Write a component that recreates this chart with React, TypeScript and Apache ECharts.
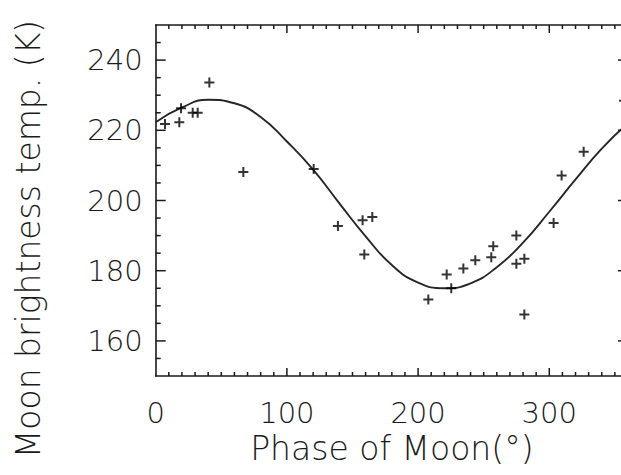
import React, { useEffect, useRef } from "react";
import * as echarts from "echarts";

// Observed lunar brightness temperature versus lunar phase
const phaseDeg = [7.1, 18.0, 19.3, 28.2, 32.0, 40.9, 66.8, 120.4, 138.9, 157.7, 165.1, 159.0, 207.8, 221.8, 225.3, 234.5, 243.6, 255.8, 257.3, 274.9, 274.9, 281.0, 281.0, 303.3, 309.4, 326.2, 357.0];
const tempK = [221.8, 222.3, 226.3, 225.0, 225.0, 233.6, 208.1, 209.0, 192.7, 194.4, 195.3, 184.6, 171.8, 178.9, 175.0, 180.6, 183.0, 183.8, 187.0, 190.0, 182.0, 183.4, 167.5, 193.6, 207.1, 213.9, 228.4];

// Fitted curve through the observations
const fitPhase = [0, 20, 40, 60, 80, 100, 120, 140, 160, 180, 200, 220, 240, 260, 280, 300, 320, 340, 360];
const fitTemp = [222.3, 226.5, 228.7, 227.7, 223.8, 216.8, 208.8, 199.2, 189.8, 181.6, 176.6, 175.0, 176.4, 181.0, 188.0, 196.8, 206.0, 214.8, 222.0];

// Axis ranges; tick slots every 10° (x) and every 5 K (y)
const xRange = [0, 360];
const yRange = [150, 250];
const xTickSlots = Array.from({ length: 37 }, (_, i) => String(i * 10));
const yTickSlots = Array.from({ length: 21 }, (_, i) => String(150 + i * 5));
const xMajorStep = 100;
const yMajorStep = 20;

const xTitle = "Phase of Moon(°)";
const yTitle = "Moon brightness temp. (K)";

const INK = "#1a1a1a";
const FONT = "'DejaVu Sans', sans-serif";
const PLUS = "path://M4,0h2v4h4v2h-4v4h-2v-4h-4v-2h4z";

const everyX = () => (_i: number, v: string) => Number(v) % xMajorStep === 0;
const everyY = () => (_i: number, v: string) => Number(v) % yMajorStep === 0;

// Category axes carry the frame lines and the numeric labels
function frameX(position: "top" | "bottom", labels: boolean) {
  return {
    type: "category",
    position,
    data: xTickSlots,
    boundaryGap: false,
    splitLine: { show: false },
    axisLine: { show: true, onZero: false, lineStyle: { color: INK, width: 1.6 } },
    axisTick: { show: false },
    axisLabel: labels
      ? { show: true, interval: everyX(), margin: 22, fontFamily: FONT, fontSize: 29, fontWeight: 200, color: INK }
      : { show: false },
  };
}

function frameY(position: "left" | "right", labels: boolean) {
  return {
    type: "category",
    position,
    data: yTickSlots,
    boundaryGap: false,
    splitLine: { show: false },
    axisLine: { show: true, onZero: false, lineStyle: { color: INK, width: 1.6 } },
    axisTick: { show: false },
    axisLabel: labels
      ? { show: true, interval: everyY(), margin: 13, fontFamily: FONT, fontSize: 29, fontWeight: 200, color: INK }
      : { show: false },
  };
}

const hiddenValueAxis = (range: number[]) => ({
  type: "value",
  min: range[0],
  max: range[1],
  show: false,
  splitLine: { show: false },
});

const xTickValues = xTickSlots.map(Number).filter((v) => v > xRange[0] && v < xRange[1]);
const yTickValues = yTickSlots.map(Number).filter((v) => v > yRange[0] && v < yRange[1]);
const tickStyle = { stroke: INK, lineWidth: 1.5 };

const yTitleText = {
  type: "text",
  x: 28,
  y: 239,
  rotation: Math.PI / 2,
  style: {
    text: yTitle,
    fontFamily: FONT,
    fontSize: 33,
    fontWeight: 200,
    fill: INK,
    align: "center",
    verticalAlign: "middle",
  },
};

// Inward ticks on all four sides, positioned by converting data values to pixels
function tickGraphics(chart: echarts.ECharts) {
  const px = (x: number, y: number) => chart.convertToPixel({ xAxisIndex: 0, yAxisIndex: 0 }, [x, y]) as number[];
  const out: any[] = [];
  xTickValues.forEach((v) => {
    const len = v % xMajorStep === 0 ? 8 : 4;
    const b = px(v, yRange[0]);
    const t = px(v, yRange[1]);
    out.push({ type: "line", silent: true, z: 50, shape: { x1: b[0], y1: b[1], x2: b[0], y2: b[1] - len }, style: tickStyle });
    out.push({ type: "line", silent: true, z: 50, shape: { x1: t[0], y1: t[1], x2: t[0], y2: t[1] + len }, style: tickStyle });
  });
  yTickValues.forEach((v) => {
    const len = v % yMajorStep === 0 ? 10 : 5;
    const l = px(xRange[0], v);
    const r = px(xRange[1], v);
    out.push({ type: "line", silent: true, z: 50, shape: { x1: l[0], y1: l[1], x2: l[0] + len, y2: l[1] }, style: tickStyle });
    out.push({ type: "line", silent: true, z: 50, shape: { x1: r[0], y1: r[1], x2: r[0] - len, y2: r[1] }, style: tickStyle });
  });
  return out;
}

export default function App() {
  const ref = useRef<HTMLDivElement>(null);

  useEffect(() => {
    if (!ref.current) return;
    document.body.style.overflow = "hidden";
    const chart = echarts.init(ref.current, undefined, { renderer: "svg" });

    const xLabelled: any = frameX("bottom", true);
    xLabelled.name = xTitle;
    xLabelled.nameLocation = "middle";
    xLabelled.nameGap = 54;
    xLabelled.nameTextStyle = { fontFamily: FONT, fontSize: 33, fontWeight: 200, color: INK };

    chart.setOption({
      animation: false,
      backgroundColor: "#fff",
      grid: { left: 155.7, top: 25, right: 12, bottom: 99 },
      xAxis: [hiddenValueAxis(xRange), xLabelled, frameX("top", false)],
      yAxis: [hiddenValueAxis(yRange), frameY("left", true), frameY("right", false)],
      series: [
        {
          type: "line",
          xAxisIndex: 0,
          yAxisIndex: 0,
          data: fitPhase.map((p, i) => [p, fitTemp[i]]),
          smooth: 0.5,
          showSymbol: false,
          symbol: "none",
          lineStyle: { color: "#262626", width: 1.9 },
          z: 2,
        },
        {
          type: "scatter",
          xAxisIndex: 0,
          yAxisIndex: 0,
          data: phaseDeg.map((p, i) => [p, tempK[i]]),
          symbol: PLUS,
          symbolSize: 10,
          itemStyle: { color: "#000" },
          z: 3,
        },
      ],
    });

    chart.setOption({ graphic: [yTitleText, ...tickGraphics(chart)] });

    return () => chart.dispose();
  }, []);

  return (
    <div
      ref={ref}
      style={{ position: "fixed", left: 0, top: 0, width: 640, height: 475, background: "#fff" }}
    />
  );
}
